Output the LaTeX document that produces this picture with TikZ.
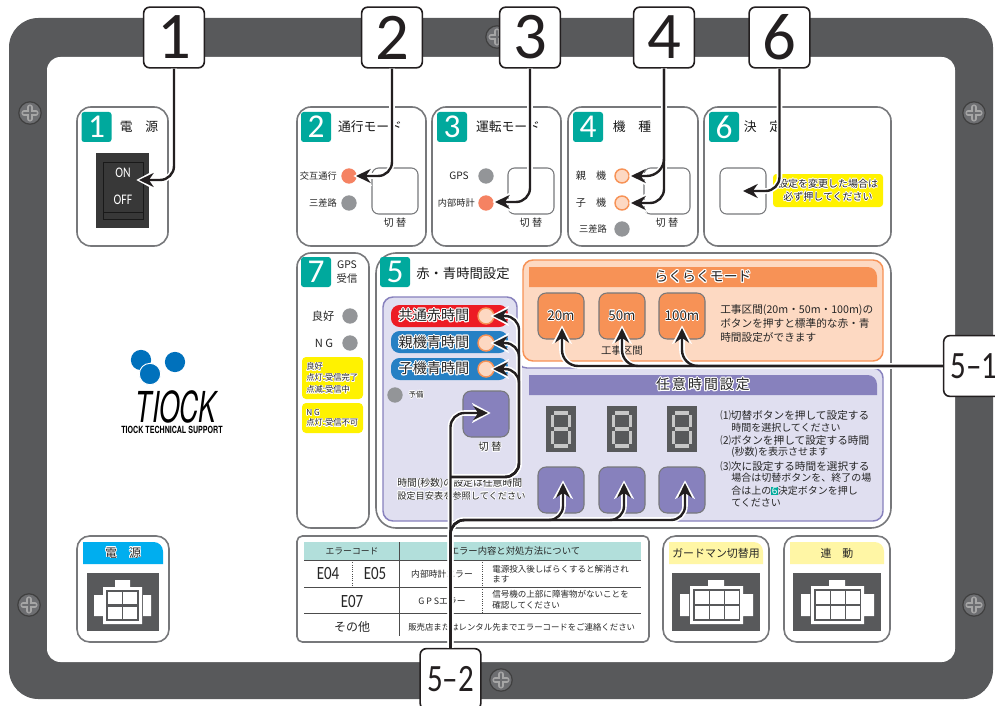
\documentclass[tikz,border=0pt]{standalone}
\usepackage{fontspec}
\setmainfont{Noto Sans CJK JP}
\newfontfamily\numfont{Carlito}
\newfontfamily\narrowfont[FakeStretch=0.8]{Carlito}
\newfontfamily\logofont{TeX Gyre Heros}
\usepackage{xcolor}
\usepackage[copies]{contour}
\usetikzlibrary{arrows.meta, calc, shapes.geometric}
\definecolor{paneldark}{HTML}{58595B}
\definecolor{panelgray}{HTML}{77787B}
\definecolor{screwgray}{HTML}{6D6E71}
\definecolor{panelteal}{HTML}{00A99D}
\definecolor{ledgray}{HTML}{939598}
\definecolor{ledorange}{HTML}{F58262}
\definecolor{ledlite}{HTML}{FDD8C2}
\definecolor{rakuorange}{HTML}{F79256}
\definecolor{rakulite}{HTML}{FDD9C2}
\definecolor{lilac}{HTML}{E0DFF0}
\definecolor{lilacdark}{HTML}{8781BD}
\definecolor{notered}{HTML}{ED1C24}
\definecolor{noteblue}{HTML}{2680C4}
\definecolor{noteyellow}{HTML}{FFF200}
\definecolor{paleyellow}{HTML}{FFF6A5}
\definecolor{tablemint}{HTML}{B2DFDB}
\definecolor{powerblue}{HTML}{00AEEF}
\definecolor{logoblue}{HTML}{0071BC}
\definecolor{callink}{HTML}{231F20}
\newcommand{\sz}[1]{\fontsize{#1}{#1}\selectfont}
\newcommand{\ct}[1]{\contour{white}{#1}}
\newcommand{\ctb}[1]{{\contourlength{0.75pt}\contour{white}{#1}}}
\contourlength{0.45pt}
\tikzset{
  panelbox/.style={draw=panelgray, fill=white, line width=1.2pt, rounded corners=10.5pt},
  badge/.style={fill=panelteal, text=white, rounded corners=2pt, inner sep=0pt, minimum size=22.5pt, font=\numfont\sz{25}},
  lab/.style={inner sep=0pt, text=black!85, font=\sz{6.9}},
  title/.style={inner sep=0pt, text=black!90, font=\sz{9.6}},
  ledg/.style={circle, fill=ledgray, inner sep=0pt, minimum size=11.5pt},
  ledo/.style={circle, fill=ledorange, inner sep=0pt, minimum size=11.5pt},
  ledl/.style={circle, fill=ledlite, draw=rakuorange, line width=1.1pt, inner sep=0pt, minimum size=10.5pt},
  softbtn/.style={draw=panelgray, fill=white, line width=0.8pt, rounded corners=5pt},
  purplebtn/.style={draw=panelgray, fill=lilacdark, line width=0.8pt, rounded corners=6pt},
  orangebtn/.style={draw=panelgray, fill=rakuorange, line width=0.8pt, rounded corners=6pt},
  callbox/.style={draw=callink, fill=white, line width=1.2pt, rounded corners=4.5pt, inner sep=0pt,
    minimum size=45.5pt, text=callink, font=\numfont\sz{50}},
  callsub/.style={callbox, font=\narrowfont\sz{29}},
  callhalo/.style={draw=white, line width=4.2pt, shorten >=-2pt, -{Stealth[length=14pt,width=15pt]}},
  callline/.style={draw=callink, line width=1.8pt, -{Stealth[length=11pt,width=10.5pt]}}
}

\begin{document}
\begin{tikzpicture}[x=0.75pt,y=-0.75pt]
\useasboundingbox (0,0) rectangle (995,706);
\clip (0,0) rectangle (995,706);
% panel
\fill[paneldark, rounded corners=22pt] (9,18) rectangle (993,699);
\fill[white, rounded corners=10pt] (47,57) rectangle (955,662);
% screws
\foreach \sx/\sy in {30/113, 497/37, 974/113, 974/605, 29/605, 501/680} {
  \fill[screwgray, draw=black!75, line width=0.9pt] (\sx,\sy) circle (8.4pt);
  \draw[black!35, line width=3.8pt, line cap=round] (\sx-6,\sy) -- (\sx+6,\sy) (\sx,\sy-6) -- (\sx,\sy+6);
  \draw[screwgray, line width=2.2pt, line cap=round] (\sx-6,\sy) -- (\sx+6,\sy) (\sx,\sy-6) -- (\sx,\sy+6);
}
% top row
\draw[panelbox] (77,107) rectangle (168,246);
\draw[panelbox] (297,107) rectangle (426,246);
\draw[panelbox] (432,107) rectangle (561,246);
\draw[panelbox] (568,107) rectangle (698,246);
\draw[panelbox] (704,107) rectangle (891,246);
\node[badge] (badge1) at (96.5,127) {1};
\node[badge] (badge2) at (316,127) {2};
\node[badge] (badge3) at (452,127) {3};
\node[badge] (badge4) at (588,127) {4};
\node[badge] (badge6) at (724,127) {6};
\node[title] (title1) at (139,127) {電　源};
\node[title] (title2) at (370,127) {通行モード};
\node[title] (title3) at (508,127) {運転モード};
\node[title] (title4) at (632,127) {機　種};
\node[title] (title6) at (763,127) {決　定};
% power switch
\fill[black!78] (96,153) rectangle (149,228);
\draw[black!90, line width=0.6pt] (103,162) rectangle (143,219) (103,212) -- (143,212);
\node[lab, text=white, font=\narrowfont\sz{11}] (swon) at (123,173) {ON};
\node[lab, text=white, font=\narrowfont\sz{11}] (swoff) at (123,200) {OFF};
% mode buttons
\foreach \bx in {372,508,644,720} {
  \draw[softbtn] (\bx,168) rectangle (\bx+46,214);
}
\foreach \bx/\nm in {395/a,531/b,667/c} {
  \node[lab, font=\sz{7.6}] (swap\nm) at (\bx,223) {切 替};
}
\node[lab, anchor=east] (txtalt) at (337,176) {交互通行};
\node[lab, anchor=east] (txtthree) at (337,203) {三差路};
\node[ledo] (ledalt) at (349,176) {};
\node[ledg] (ledthree) at (349,203) {};
\node[lab, anchor=east, font=\sz{7.6}] (txtgps) at (469,176) {GPS};
\node[lab, anchor=east] (txtint) at (475,203) {内部時計};
\node[ledg] (ledgps) at (486,176) {};
\node[ledo] (ledint) at (486,203) {};
\node[lab, font=\sz{7.6}] (txtpar) at (591,176) {親　機};
\node[lab, font=\sz{7.6}] (txtchi) at (591,203) {子　機};
\node[lab] (txtsan) at (593,229) {三差路};
\node[ledl] (ledpar) at (622,176) {};
\node[ledl] (ledchi) at (622,203) {};
\node[ledg] (ledsan) at (622,229) {};
% note beside the confirm button
\fill[noteyellow, rounded corners=2.5pt] (773,174) rectangle (883,207);
\node[lab, font=\sz{7.5}] (notea) at (828,184) {\ct{設定を変更した場合は}};
\node[lab, font=\sz{7.5}] (noteb) at (828,197) {\ct{必ず押してください}};
% gps box
\draw[panelbox] (297,253) rectangle (369,528);
\node[badge] (badge7) at (316,272) {7};
\node[lab, font=\sz{7.8}] (gpsa) at (347,265) {GPS};
\node[lab, font=\sz{7.8}] (gpsb) at (347,279) {受信};
\node[lab, font=\sz{8.4}] (gpsok) at (323,316) {良好};
\node[lab, font=\sz{8.4}] (gpsng) at (324,343) {N G};
\node[ledg] (ledok) at (350,316) {};
\node[ledg] (ledng) at (350,343) {};
\fill[noteyellow, rounded corners=3pt] (302,357) rectangle (363,399);
\fill[noteyellow, rounded corners=3pt] (302,403) rectangle (363,433);
\foreach \ty/\tt in {367/{良好}, 378/{点灯:受信完了}, 390/{点滅:受信中}, 413/{N G}, 423/{点灯:受信不可}} {
  \node[lab, anchor=west, font=\sz{6.2}] (gps\ty) at (306,\ty) {\ct{\tt}};
}
% time setting box
\draw[panelbox, rounded corners=15pt] (376,253) rectangle (891,528);
\node[badge] (badge5) at (395,272) {5};
\node[title, anchor=west, font=\sz{10}] (title5) at (416,273) {赤・青時間設定};
\draw[draw=lilacdark, fill=lilac, line width=1.1pt, rounded corners=7.5pt]
  (383,297) -- (517,297) -- (517,368) -- (883,368) -- (883,521) -- (383,521) -- cycle;
\draw[draw=rakuorange, fill=rakulite, line width=1.1pt, rounded corners=7.5pt] (523,260) rectangle (883,361);
% bars
\fill[rakuorange] (529,287) -- (529,267) [rounded corners=7pt] -- (877,267) [sharp corners] -- (877,287) -- cycle;
\fill[lilacdark] (529,395) -- (529,375) [rounded corners=7pt] -- (877,375) [sharp corners] -- (877,395) -- cycle;
\node[lab, font=\sz{10.4}] (rakutitle) at (703,277) {\ctb{らくらくモード}};
\node[lab, font={\sz{10.4}\addfontfeatures{LetterSpace=15}}] (freetitle) at (703,385) {\ctb{任意時間設定}};
% preset and digit buttons
\foreach \bx/\bt in {538/20m,599/50m,659/100m} {
  \draw[orangebtn] (\bx,293) rectangle (\bx+46,339);
  \node[lab, font=\sz{10}] (preset\bx) at (\bx+23,316) {\ct{\bt}};
  \draw[purplebtn] (\bx,467) rectangle (\bx+46,513);
}
\node[lab, font=\sz{7.8}] (rakusec) at (622,351) {工事区間};
\foreach \ty/\tt in {310/{工事区間(20m・50m・100m)の}, 323/{ボタンを押すと標準的な赤・青}, 337/{時間設定ができます}} {
  \node[lab, anchor=west, font=\sz{8}] (raku\ty) at (720,\ty) {\tt};
}
% seven segment digits
\foreach \dx in {546,607,667} {
  \fill[paneldark] (\dx,406) rectangle (\dx+30,452);
  \draw[black!22, line width=2.6pt]
    (\dx+8,413) -- (\dx+22,413) (\dx+8,429) -- (\dx+22,429) (\dx+8,446) -- (\dx+22,446)
    (\dx+6.5,415) -- (\dx+6.5,427) (\dx+23.5,415) -- (\dx+23.5,427)
    (\dx+6.5,431) -- (\dx+6.5,444) (\dx+23.5,431) -- (\dx+23.5,444);
}
\foreach \ty/\tx/\tf/\tt in {415/720/8/{⑴切替ボタンを押して設定する}, 428/731/7.5/{時間を選択してください},
  440/720/8/{⑵ボタンを押して設定する時間}, 452/731/7.5/{(秒数)を表示させます},
  466/720/8/{⑶次に設定する時間を選択する}, 478/731/7.5/{場合は切替ボタンを、終了の場},
  503/731/7.5/{てください}} {
  \node[lab, anchor=west, font=\sz{\tf}] (free\ty) at (\tx,\ty) {\tt};
}
\node[lab, anchor=west, font=\sz{7.5}] (free491) at (731,491)
  {合は上の{\setlength{\fboxsep}{0.4pt}\colorbox{panelteal}{\textcolor{white}{6}}}決定ボタンを押し};
% left column of the time box
\fill[notered, rounded corners=6.5pt] (391,305) rectangle (508,327);
\fill[noteblue, rounded corners=6.5pt] (391,331) rectangle (508,353);
\fill[noteblue, rounded corners=6.5pt] (391,358) rectangle (508,380);
\foreach \ty/\tt in {316/{共通赤時間}, 343/{親機青時間}, 369/{子機青時間}} {
  \node[lab, font=\sz{10.6}] (time\ty) at (434,\ty) {\ctb{\tt}};
  \node[ledl, minimum size=12pt] (led\ty) at (486,\ty) {};
}
\node[ledg] (ledspare) at (395,395) {};
\node[lab, font=\sz{5.6}] (txtspare) at (416,395) {\ct{予備}};
\draw[purplebtn] (463,391) rectangle (509,437);
\node[lab, font=\sz{7.8}] (swapd) at (490,447) {\ct{切 替}};
\node[lab, anchor=west, font=\sz{7.4}] (hinta) at (397,484) {\ct{時間(秒数)の設定は任意時間}};
\node[lab, anchor=west, font=\sz{6.9}] (hintb) at (397,496) {\ct{設定目安表を参照してください}};
% error table
\draw[panelbox, rounded corners=4pt] (297,536) rectangle (649,642);
\fill[tablemint] (304,542) rectangle (641,560);
\draw[black!70, line width=0.7pt] (304,560) -- (641,560) (304,587) -- (641,587) (304,613) -- (641,613) (399,542) -- (399,636);
\draw[black!70, line width=0.7pt, densely dotted] (352,560) -- (352,587) (482,560) -- (482,613);
\node[lab, font=\sz{6.6}] (errhead) at (352,551) {エラーコード};
\node[lab, font=\sz{7}] (errbody) at (515,551) {エラー内容と対処方法について};
\node[lab, font=\narrowfont\sz{14}] (erra) at (328,574) {E04};
\node[lab, font=\narrowfont\sz{14}] (errb) at (375,574) {E05};
\node[lab, font=\narrowfont\sz{14}] (errc) at (352,601) {E07};
\node[lab, font=\sz{9}] (errd) at (352,627) {その他};
\node[lab, font=\sz{6.6}] (erre) at (442,574) {内部時計エラー};
\node[lab, font=\sz{6.6}] (errf) at (442,601) {G P Sエラー};
\foreach \ty/\tt in {569/{電源投入後しばらくすると解消され}, 579/{ます}, 594/{信号機の上部に障害物がないことを}, 605/{確認してください}} {
  \node[lab, anchor=west, font=\sz{6.4}] (err\ty) at (492,\ty) {\tt};
}
\node[lab, anchor=west, font=\sz{6.3}] (errg) at (408,627) {販売店またはレンタル先までエラーコードをご連絡ください};
% connectors
\draw[panelbox, rounded corners=9.5pt] (77,536) rectangle (169,642);
\draw[panelbox, rounded corners=9.5pt] (663,536) rectangle (769,642);
\draw[panelbox, rounded corners=9.5pt] (784,536) rectangle (890,642);
\fill[powerblue] (83,564) -- (83,542) [rounded corners=7pt] -- (163,542) [sharp corners] -- (163,564) -- cycle;
\node[lab, font=\sz{9}] (portpower) at (123,553) {\ct{電　源}};
\fill[paneldark] (87,573) rectangle (159,631);
\fill[white] (115,580) rectangle (130,590) (94,595) rectangle (103,616) (143,595) rectangle (151,616) (103,587) rectangle (142,624);
\fill[paneldark] (106,590) rectangle (139,621);
\foreach \cx in {108,123} {
  \foreach \cy in {592,607} {
    \fill[white] (\cx,\cy) rectangle (\cx+14,\cy+12);
  }
}
\foreach \bx/\bt in {0/{ガードマン切替用},121/{連　動}} {
  \fill[paleyellow] (669+\bx,564) -- (669+\bx,542) [rounded corners=7pt] -- (763+\bx,542) [sharp corners] -- (763+\bx,564) -- cycle;
  \node[lab, font=\sz{8.2}] (port\bx) at (716+\bx,553) {\bt};
  \fill[paneldark] (672+\bx,573) rectangle (760+\bx,631);
  \fill[white] (708+\bx,580) rectangle (724+\bx,590) (680+\bx,594) rectangle (689+\bx,616) (743+\bx,594) rectangle (753+\bx,616) (690+\bx,586) rectangle (743+\bx,624);
  \fill[paneldark] (693+\bx,589) rectangle (740+\bx,621);
  \foreach \cx in {695,710,725} {
    \foreach \cy in {591,606} {
      \fill[white] (\cx+\bx,\cy) rectangle (\cx+\bx+13.5,\cy+13);
    }
  }
}
% logo
\fill[logoblue] (141,360) circle (7.6pt) (175,362) circle (7.6pt);
\fill[logoblue, draw=white, line width=0.7pt] (150,374) circle (8pt);
\node[lab, xscale=0.62, text=black, font=\logofont\itshape\sz{32}] (logoname) at (176,407) {TIOCK};
\node[lab, xscale=0.72, text=black, font=\logofont\bfseries\sz{7.4}] (logosub) at (172,430) {TIOCK TECHNICAL SUPPORT};
% callouts
\node[callbox] (call1) at (174,37.5) {1};
\node[callbox] (call2) at (392,37.5) {2};
\node[callbox] (call3) at (530,37.5) {3};
\node[callbox] (call4) at (664,37.5) {4};
\node[callbox] (call6) at (779.5,37.5) {6};
\node[callsub] (call51) at (974,366) {5–1};
\node[callsub] (call52) at (450.5,679) {5–2};
\coordinate (tip1) at (139,180);
\coordinate (tip2) at (356,176);
\coordinate (tip3) at (495,202);
\coordinate (tip4a) at (631,176);
\coordinate (tip4b) at (631,203);
\coordinate (tip6) at (743,191);
\coordinate (tip51a) at (562,328);
\coordinate (tip51b) at (622,328);
\coordinate (tip51c) at (682,328);
\coordinate (tip52) at (488,413);
\coordinate (tip52a) at (563,483);
\coordinate (tip52b) at (624,483);
\coordinate (tip52c) at (685,483);
\coordinate (tipr) at (493,316);
\coordinate (tipg) at (493,343);
\coordinate (tipb) at (493,369);
\coordinate (rowb) at (0,520);
\coordinate (rowc) at (0,477);
\coordinate (colc) at (519,0);
\foreach \kind in {callhalo,callline} {
  \draw[\kind, rounded corners=10.5pt] (call1.south) |- (tip1);
  \draw[\kind, rounded corners=10.5pt] (call2.south) |- (tip2);
  \draw[\kind, rounded corners=10.5pt] (call3.south) |- (tip3);
  \draw[\kind, rounded corners=13pt] (call4.south) |- (tip4a);
  \draw[\kind, rounded corners=10.5pt] (call4.south) |- (tip4b);
  \draw[\kind, rounded corners=10.5pt] (call6.south) |- (tip6);
  \draw[\kind, rounded corners=12pt] (call51.west) -| (tip51a);
  \draw[\kind, rounded corners=12pt] (call51.west) -| (tip51b);
  \draw[\kind, rounded corners=12pt] (call51.west) -| (tip51c);
  \draw[\kind, rounded corners=10.5pt] (call52.north) |- (tip52);
  \draw[\kind, rounded corners=10.5pt] (call52.north) -- (call52.north |- rowb) -- (tip52a |- rowb) -- (tip52a);
  \draw[\kind, rounded corners=10.5pt] (call52.north) -- (call52.north |- rowb) -- (tip52b |- rowb) -- (tip52b);
  \draw[\kind, rounded corners=10.5pt] (call52.north) -- (call52.north |- rowb) -- (tip52c |- rowb) -- (tip52c);
  \draw[\kind, rounded corners=10.5pt] (call52.north |- rowc) -- (colc |- rowc) -- (colc |- tipr) -- (tipr);
  \draw[\kind, rounded corners=10.5pt] (call52.north |- rowc) -- (colc |- rowc) -- (colc |- tipg) -- (tipg);
  \draw[\kind, rounded corners=10.5pt] (call52.north |- rowc) -- (colc |- rowc) -- (colc |- tipb) -- (tipb);
}
\end{tikzpicture}
\end{document}
